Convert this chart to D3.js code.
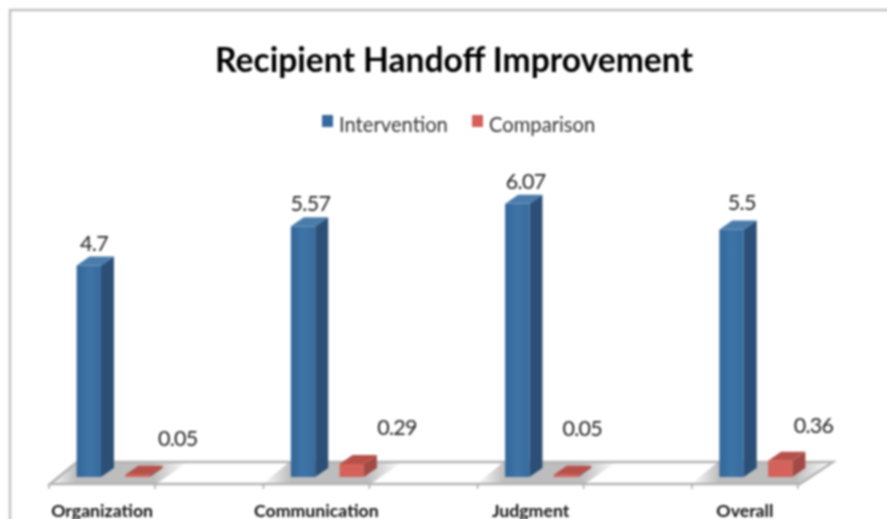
<!DOCTYPE html>
<html lang="en">

<body style="margin:0;background:#fff">
    <script type='text/javascript' src='https://d3js.org/d3.v7.min.js'></script>
    <script>
        var categories = ["Organization", "Communication", "Judgment", "Overall"];
        var seriesNames = ["Intervention", "Comparison"];
        var intervention = [4.7, 5.57, 6.07, 5.5];
        var comparison = [0.05, 0.29, 0.05, 0.36];
        var valueLabels = [["4.7", "5.57", "6.07", "5.5"], ["0.05", "0.29", "0.05", "0.36"]];
        // hand placed data labels in the original, offsets from the bar's front top right corner
        var labelDx = [[7, 15, 16, 12], [48, 53, 24, 41]];
        var labelDy = [[-15, -15, -15, -20], [-29, -29, -39, -28]];

        var width = 887, height = 519;
        var depthX = 13, depthY = 9;
        var colors = {
            Intervention: { front: "url(#blueFront)", side: "#2b4f76", top: "#4a7cab", key: "#37699f" },
            Comparison: { front: "#d5625a", side: "#a34a44", top: "#b8504a", key: "#d5605a" }
        };

        var x0 = d3.scaleBand().domain(categories).range([-5, 852]);
        var x1 = d3.scaleBand().domain(seriesNames).range([-25.5, 47.5]).paddingInner(0.5);
        var y = d3.scaleLinear().domain([0, 7]).range([477, 162]);

        var svg = d3.select("body")
            .append("svg")
            .attr("width", width)
            .attr("height", height)
            .style("display", "block");

        var defs = svg.append("defs");
        var grad = defs.append("linearGradient").attr("id", "blueFront");
        grad.append("stop").attr("offset", "0").attr("stop-color", "#33669a");
        grad.append("stop").attr("offset", "0.5").attr("stop-color", "#3e74a6");
        grad.append("stop").attr("offset", "1").attr("stop-color", "#376b9e");
        var shade = defs.append("linearGradient").attr("id", "floorShade");
        shade.append("stop").attr("offset", "0").attr("stop-color", "#bdbdbd").attr("stop-opacity", 0);
        shade.append("stop").attr("offset", "0.2").attr("stop-color", "#bdbdbd");
        shade.append("stop").attr("offset", "0.75").attr("stop-color", "#bdbdbd");
        shade.append("stop").attr("offset", "1").attr("stop-color", "#bdbdbd").attr("stop-opacity", 0);

        var root = svg.append("g").style("filter", "blur(0.8px)");

        // frame runs off the right and bottom of the picture
        root.append("rect")
            .attr("x", 10).attr("y", 10)
            .attr("width", 900).attr("height", 530)
            .attr("fill", "#fff")
            .attr("stroke", "#c2c2c2")
            .attr("stroke-width", 2.5);

        root.append("text")
            .attr("x", 454).attr("y", 72)
            .attr("text-anchor", "middle")
            .style("font", "bold 33.6px Lato")
            .attr("fill", "#000")
            .text("Recipient Handoff Improvement");

        // legend
        var legendX = [322, 472], legendTextX = [339, 489];
        seriesNames.forEach(function (s, i) {
            root.append("rect")
                .attr("x", legendX[i]).attr("y", 115)
                .attr("width", 11).attr("height", 12)
                .attr("fill", colors[s].key);
            root.append("text")
                .attr("x", legendTextX[i]).attr("y", 132)
                .style("font", "20.2px Lato")
                .attr("fill", "#333")
                .text(s);
        });

        // floor
        var floorFront = 484, floorBack = 462;
        var floorLeft = x0(categories[0]) + x0.bandwidth() / 2 - 52;
        var floorRight = x0(categories[3]) + x0.bandwidth() / 2 + 55;

        categories.forEach(function (c) {
            var cx = x0(c) + x0.bandwidth() / 2;
            root.append("path")
                .attr("d", d3.line()([[cx - 54, floorFront], [cx + 54, floorFront], [cx + 54 + 32, floorBack], [cx - 54 + 27, floorBack]]) + "Z")
                .attr("fill", "url(#floorShade)");
        });

        root.append("path")
            .attr("d", d3.line()([[floorLeft, floorFront], [floorLeft + 27, floorBack], [floorRight + 33, floorBack], [floorRight, floorFront]]) + "Z")
            .attr("fill", "none")
            .attr("stroke", "#b4b4b4")
            .attr("stroke-width", 2.5);

        categories.forEach(function (c) {
            var cx = x0(c) + x0.bandwidth() / 2;
            [-53, 53].forEach(function (t) {
                root.append("line")
                    .attr("x1", cx + t).attr("x2", cx + t)
                    .attr("y1", floorFront).attr("y2", floorFront + 5)
                    .attr("stroke", "#a8a8a8")
                    .attr("stroke-width", 1.5);
            });
            root.append("text")
                .attr("x", cx).attr("y", 517)
                .attr("text-anchor", "middle")
                .style("font", "bold 17.7px Lato")
                .attr("fill", "#111")
                .text(c);
        });

        // bars
        [intervention, comparison].forEach(function (values, si) {
            var name = seriesNames[si];
            var g = root.append("g");
            var bars = g.selectAll("g")
                .data(values)
                .enter()
                .append("g")
                .attr("transform", function (d, i) {
                    return "translate(" + (x0(categories[i]) + x0.bandwidth() / 2 + x1(name)) + ",0)";
                });
            var w = x1.bandwidth();

            bars.append("path")
                .attr("fill", colors[name].side)
                .attr("d", function (d) {
                    return "M" + w + "," + y(0) + "l" + depthX + "," + (-depthY) + "V" + (y(d) - depthY) + "l" + (-depthX) + "," + depthY + "Z";
                });
            bars.append("path")
                .attr("fill", colors[name].top)
                .attr("d", function (d) {
                    return "M0," + y(d) + "l" + depthX + "," + (-depthY) + "h" + w + "l" + (-depthX) + "," + depthY + "Z";
                });
            bars.append("rect")
                .attr("y", function (d) { return y(d); })
                .attr("width", w)
                .attr("height", function (d) { return y(0) - y(d); })
                .attr("fill", colors[name].front);

            bars.append("text")
                .attr("x", function (d, i) { return w + labelDx[si][i]; })
                .attr("y", function (d, i) { return y(d) + labelDy[si][i]; })
                .attr("text-anchor", "end")
                .style("font", "21.5px Lato")
                .style("letter-spacing", "-0.7px")
                .attr("fill", "#222")
                .text(function (d, i) { return valueLabels[si][i]; });
        });
    </script>

</body>

</html>
